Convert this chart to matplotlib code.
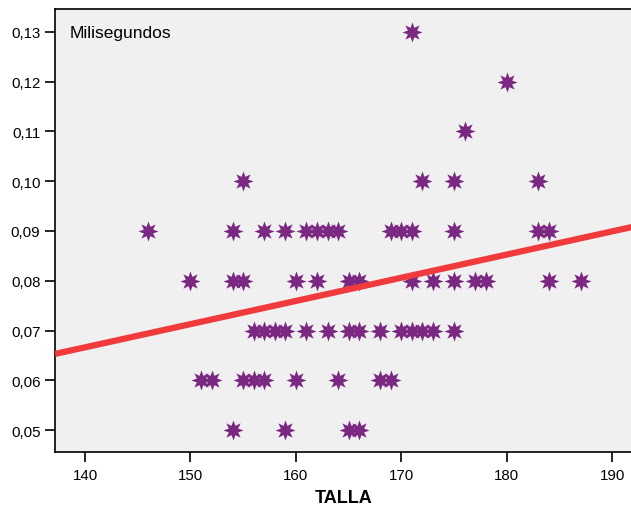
import numpy as np
import matplotlib.pyplot as plt
from matplotlib.ticker import FuncFormatter

# talla (cm) grouped by reaction time (ms)
talla_005 = [154, 159, 165, 166]
talla_006 = [151, 152, 155, 156, 157, 160, 164, 168, 169]
talla_007 = [156, 157, 158, 159, 161, 163, 165, 166, 168, 170, 171, 172, 173, 175]
talla_008 = [150, 154, 155, 160, 162, 165, 166, 171, 173, 175, 177, 178, 184, 187]
talla_009 = [146, 154, 157, 159, 161, 162, 163, 164, 169, 170, 171, 175, 183, 184]
talla_010 = [155, 172, 175, 183]
talla_011 = [176]
talla_012 = [180]
talla_013 = [171]

groups = [(0.05, talla_005), (0.06, talla_006), (0.07, talla_007), (0.08, talla_008),
          (0.09, talla_009), (0.10, talla_010), (0.11, talla_011), (0.12, talla_012),
          (0.13, talla_013)]

# fit line total (intercept, slope)
fit_a = 0.00139
fit_b = 0.000466

x = np.array([t for v, ts in groups for t in ts], dtype=float)
y = np.array([v for v, ts in groups for t in ts])

plt.rcParams['font.family'] = ['Liberation Sans', 'DejaVu Sans']

fig = plt.figure(figsize=(6.31, 5.06), dpi=100)
ax = fig.add_axes([55/631, 1-453/506, 1.002-55/631, (453-10)/506])
ax.set_facecolor('#f0f0f0')

ax.plot(x, y, linestyle='none', marker=(8, 1, 0), markersize=14.5,
        color='#7b2882', markeredgewidth=0, zorder=3)

xl = np.array([137.15, 192.0])
ax.plot(xl, fit_a + fit_b*xl, color='#f03a3c', linewidth=4.5, zorder=4,
        solid_capstyle='butt')

ax.set_xlim(137.15, 191.9)
ax.set_ylim(0.0456, 0.1346)
ax.set_xticks([140, 150, 160, 170, 180, 190])
ax.set_yticks([0.05, 0.06, 0.07, 0.08, 0.09, 0.10, 0.11, 0.12, 0.13])
ax.yaxis.set_major_formatter(FuncFormatter(lambda v, p: f'{v:.2f}'.replace('.', ',')))
ax.tick_params(direction='out', length=7.5, width=1.2, labelsize=10.8, colors='black')
ax.tick_params(axis='y', pad=3)
ax.tick_params(axis='x', pad=4)
for s in ['left', 'bottom', 'top']:
    ax.spines[s].set_linewidth(1.2)
ax.spines['right'].set_visible(False)

ax.set_xlabel('TALLA', fontsize=13, fontweight='bold', labelpad=5)
ax.text(15/576, 0.948, 'Milisegundos', transform=ax.transAxes, fontsize=12.5,
        va='center', ha='left')

fig.savefig('out.png', dpi=100)
